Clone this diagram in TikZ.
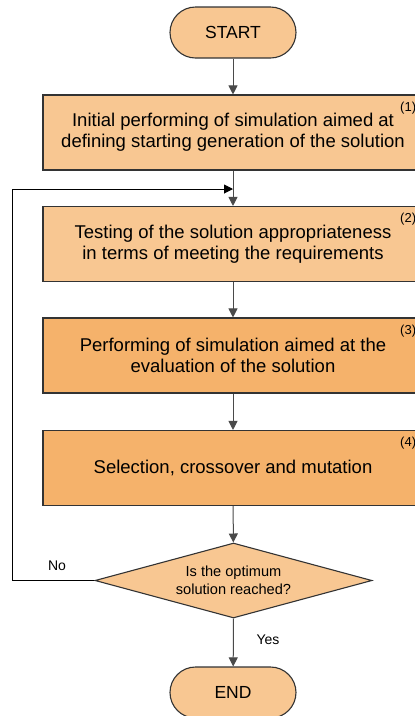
\documentclass[tikz,border=0pt]{standalone}
\usepackage{fontspec}
\setmainfont{Liberation Sans}
\usetikzlibrary{arrows.meta,shapes.geometric}
\definecolor{lightor}{HTML}{F8C792}
\definecolor{darkor}{HTML}{F5B26B}
\definecolor{bordergray}{HTML}{333333}
\definecolor{linegray}{HTML}{4A4A4A}
\tikzset{
  x=1pt,y=1pt,
  stadium/.style={draw=bordergray,line width=1.1pt,fill=lightor,rounded corners=25.5pt,
    minimum width=126pt,minimum height=51pt,inner sep=0pt,font=\fontsize{17.5}{21}\selectfont},
  procbox/.style={draw=bordergray,line width=1.1pt,minimum width=380pt,minimum height=75pt,
    inner sep=0pt,align=center,font=\fontsize{18.5}{21}\selectfont},
  decision/.style={draw=bordergray,line width=1.1pt,fill=lightor,diamond,aspect=3.69,minimum width=277pt,
    minimum height=75pt,inner sep=0pt,align=center,font=\fontsize{14.6}{17.5}\selectfont},
  numlabel/.style={anchor=west,inner sep=0pt,font=\fontsize{13}{15}\selectfont},
  edgelabel/.style={inner sep=0pt,font=\fontsize{14}{16}\selectfont},
  flow/.style={draw=linegray,line width=1pt,-{Triangle[length=9pt,width=9pt]}},
}
\begin{document}
\begin{tikzpicture}
\useasboundingbox (0,-716) rectangle (415,0);
\node[stadium] (start) at (233,-32.5) {START};
\node[procbox,fill=lightor] (p1) at (233,-132.5) {Initial performing of simulation aimed at\\defining starting generation of the solution};
\node[procbox,fill=lightor] (p2) at (233,-244) {Testing of the solution appropriateness\\in terms of meeting the requirements};
\node[procbox,fill=darkor] (p3) at (233,-355.5) {Performing of simulation aimed at the\\evaluation of the solution};
\node[procbox,fill=darkor] (p4) at (233,-468) {Selection, crossover and mutation};
\node[decision] (dec) at (233.5,-580.5) {Is the optimum\\solution reached?};
\node[stadium] (end) at (233,-692.5) {END};
\node[numlabel] (n1) at (400,-108) {(1)};
\node[numlabel] (n2) at (400,-219) {(2)};
\node[numlabel] (n3) at (400,-331) {(3)};
\node[numlabel] (n4) at (400,-443) {(4)};
\node[edgelabel] (no) at (57,-566) {No};
\node[edgelabel] (yes) at (268,-640) {Yes};
\coordinate (loopend) at (233,-189);
\coordinate (c1) at (12,-580.5);
\coordinate (c2) at (12,-189);
\draw[flow] (start) -- (p1);
\draw[flow] (p1) -- (p2);
\draw[flow] (p2) -- (p3);
\draw[flow] (p3) -- (p4);
\draw[flow] (p4) -- (dec);
\draw[flow] (dec.south) -- (end);
\draw[flow,draw=black] (dec.west) -- (c1) -- (c2) -- (loopend);
\end{tikzpicture}
\end{document}
